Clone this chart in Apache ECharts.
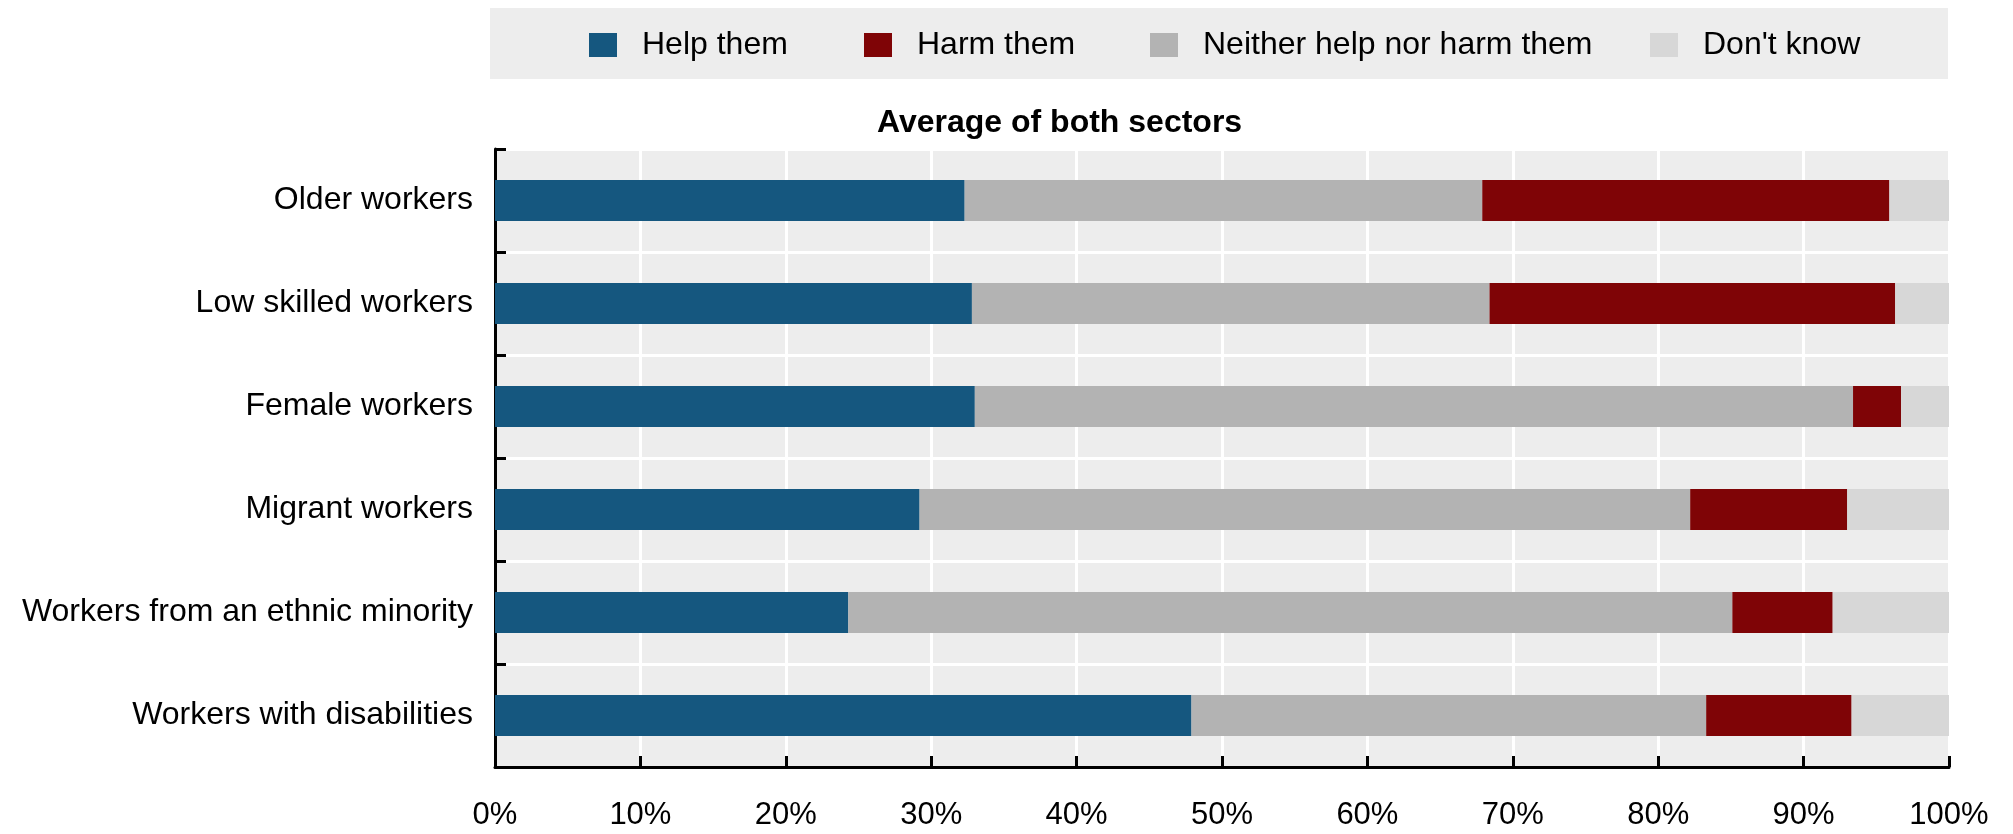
<!DOCTYPE html>
<html>
<head>
<meta charset="utf-8">
<script src="https://cdn.jsdelivr.net/npm/echarts@6/dist/echarts.min.js"></script>
<style>
  html, body { margin: 0; padding: 0; background: #ffffff; }
  #chart { width: 2013px; height: 834px; }
</style>
</head>
<body>
<div id="chart"></div>
<script>
// Worker groups, top to bottom
const categories = [
  'Older workers',
  'Low skilled workers',
  'Female workers',
  'Migrant workers',
  'Workers from an ethnic minority',
  'Workers with disabilities'
];
// Shares of respondents (%), stacked left to right
const helpThem = [32.3, 32.8, 33.0, 29.2, 24.3, 47.9];
const neitherHelpNorHarm = [35.6, 35.6, 60.4, 53.0, 60.8, 35.4];
const harmThem = [28.0, 27.9, 3.3, 10.8, 6.9, 10.0];
const dontKnow = [4.1, 3.7, 3.3, 7.0, 8.0, 6.7];

const seriesNames = ['Help them', 'Neither help nor harm them', 'Harm them', "Don't know"];
const legendOrder = ['Help them', 'Harm them', 'Neither help nor harm them', "Don't know"];
const colors = {
  'Help them': '#15577f',
  'Harm them': '#7f0406',
  'Neither help nor harm them': '#b3b3b3',
  "Don't know": '#d7d7d7'
};
const chartTitle = 'Average of both sectors';

// Prefer a condensed face when it is installed
function hasFont(name) {
  const ctx = document.createElement('canvas').getContext('2d');
  const probe = 'Workers from an ethnic minority';
  ctx.font = '40px monospace';
  const base = ctx.measureText(probe).width;
  ctx.font = '40px "' + name + '", monospace';
  return ctx.measureText(probe).width !== base;
}
const narrow = hasFont('Liberation Sans Narrow');
const bodyFont = narrow ? '"Liberation Sans Narrow", "Arial Narrow", sans-serif' : '"Liberation Sans", Arial, sans-serif';
const bodySize = narrow ? 39 : 32;
const tickSize = narrow ? 38 : 31;

const legendLeft = [589, 864, 1150, 1650];

const chart = echarts.init(document.getElementById('chart'), null, { renderer: 'canvas' });

const series = [helpThem, neitherHelpNorHarm, harmThem, dontKnow].map((vals, i) => ({
  name: seriesNames[i],
  type: 'bar',
  stack: 'total',
  barWidth: '40%',
  data: vals,
  itemStyle: { color: colors[seriesNames[i]] },
  emphasis: { disabled: true }
}));

chart.setOption({
  animation: false,
  color: seriesNames.map(n => colors[n]),
  title: {
    text: chartTitle,
    left: 877,
    top: 107,
    padding: 0,
    textStyle: {
      fontFamily: '"Liberation Sans", Arial, sans-serif',
      fontWeight: 'bold',
      fontSize: 32,
      lineHeight: 32,
      color: '#000000'
    }
  },
  graphic: [{
    type: 'rect',
    z: -10,
    shape: { x: 490, y: 8, width: 1458, height: 71 },
    style: { fill: '#ededed' }
  }],
  legend: legendOrder.map((name, i) => ({
    data: [name],
    left: legendLeft[i],
    top: 29,
    padding: 0,
    itemWidth: 28,
    itemHeight: 24,
    icon: 'rect',
    selectedMode: false,
    textStyle: {
      fontFamily: bodyFont,
      fontSize: bodySize,
      color: '#000000',
      padding: [0, 0, 0, 20]
    }
  })),
  grid: {
    left: 495,
    right: 64,
    top: 149,
    bottom: 67,
    show: true,
    backgroundColor: '#ededed',
    borderWidth: 0
  },
  xAxis: {
    type: 'value',
    min: 0,
    max: 100,
    interval: 10,
    axisLine: { show: true, lineStyle: { color: '#000000', width: 3 } },
    axisTick: { show: true, inside: true, length: 11, lineStyle: { color: '#000000', width: 3 } },
    splitLine: { show: true, lineStyle: { color: '#ffffff', width: 3 } },
    axisLabel: {
      formatter: '{value}%',
      margin: 33,
      fontFamily: bodyFont,
      fontSize: tickSize,
      color: '#000000'
    }
  },
  yAxis: {
    type: 'category',
    inverse: true,
    data: categories,
    axisLine: { show: true, lineStyle: { color: '#000000', width: 3 } },
    axisTick: { show: true, inside: true, length: 11, lineStyle: { color: '#000000', width: 3 } },
    splitLine: { show: true, lineStyle: { color: '#ffffff', width: 3 } },
    axisLabel: {
      margin: 22,
      fontFamily: bodyFont,
      fontSize: bodySize,
      color: '#000000'
    }
  },
  series: series
});
</script>
</body>
</html>
